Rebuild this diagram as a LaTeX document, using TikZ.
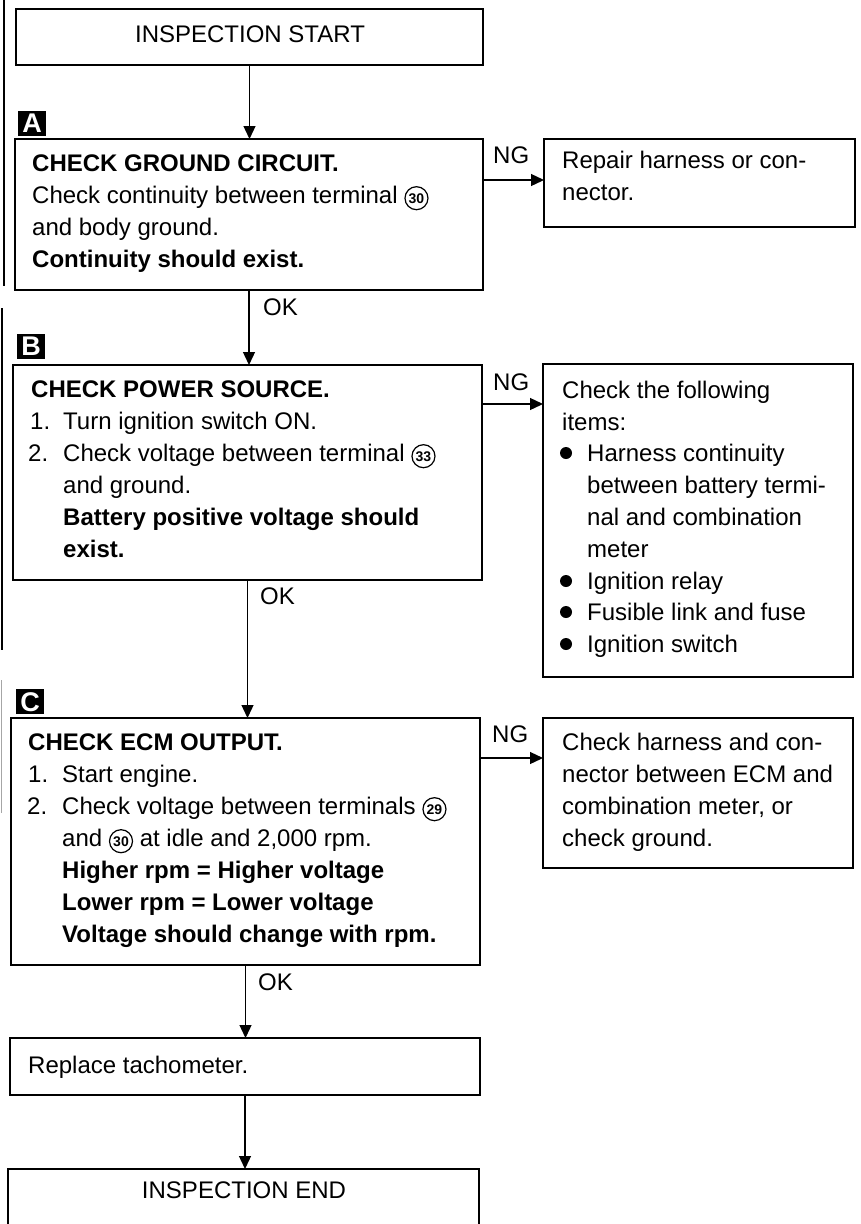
\documentclass[tikz,border=0pt]{standalone}
\usepackage{fontspec}
\setmainfont{Liberation Sans}
\usetikzlibrary{arrows.meta}
\newcommand\cnum[1]{\tikz[baseline=(cn.base)]\node[circle,draw,line width=1.2pt,inner sep=0pt,minimum size=23pt,font=\fontsize{14}{14}\selectfont\bfseries] (cn) {#1};}
\tikzset{
  box/.style={draw, line width=1.6pt, anchor=north west, inner sep=0pt, outer sep=0pt},
  txt/.style={font=\fontsize{24}{32}\selectfont, inner sep=0pt, anchor=base west},
  ctxt/.style={font=\fontsize{24}{32}\selectfont, inner sep=0pt, anchor=base},
  lab/.style={fill=black, text=white, anchor=north west, inner sep=0pt, minimum width=28pt, minimum height=25pt, font=\fontsize{27}{27}\selectfont\bfseries},
  arr/.style={line width=1.3pt, -{Triangle[length=13pt,width=12pt]}},
  margin/.style={line width=1.3pt}
}
\newcommand\tline[4]{\node[txt] (#1) at (#2,#3) {#4};}
\begin{document}
\begin{tikzpicture}[x=1pt,y=-1pt]
\path[use as bounding box] (0,0) rectangle (861,1224);
\clip (0,0) rectangle (861,1224);
\fill[white] (0,0) rectangle (861,1224);
% margin marks
\draw[margin] (4,0) -- (4,286);
\draw[margin] (2,308) -- (2,650);
\draw[line width=0.8pt, black!35] (1,680) -- (1,813);
% boxes
\node[box, minimum width=467pt, minimum height=56pt] (start) at (16,9) {};
\node[box, minimum width=468pt, minimum height=151pt] (A) at (15,139) {};
\node[box, minimum width=311pt, minimum height=88pt] (rep) at (544,139) {};
\node[box, minimum width=469pt, minimum height=215pt] (B) at (13,365) {};
\node[box, minimum width=310pt, minimum height=313pt] (chk) at (543,364) {};
\node[box, minimum width=469pt, minimum height=247pt] (C) at (11,718) {};
\node[box, minimum width=310pt, minimum height=150pt] (har) at (543,718) {};
\node[box, minimum width=470pt, minimum height=57pt] (tach) at (10,1038) {};
\node[box, minimum width=471pt, minimum height=80pt] (end) at (8,1169) {};
% step labels
\node[lab] (la) at (18,111) {A};
\node[lab] (lb) at (17,334) {B};
\node[lab] (lc) at (16,689) {C};
% texts
\node[ctxt] (ts) at (250,42) {INSPECTION START};
\tline{a1}{32}{171}{\bfseries CHECK GROUND CIRCUIT.}
\tline{a2}{32}{203}{Check continuity between terminal \cnum{30}}
\tline{a3}{32}{235}{and body ground.}
\tline{a4}{32}{267}{\bfseries Continuity should exist.}
\tline{r1}{562}{168}{Repair harness or con-}
\tline{r2}{562}{200}{nector.}
\tline{b1}{31}{397}{\bfseries CHECK POWER SOURCE.}
\tline{b2n}{30}{429}{1.}
\tline{b2}{63}{429}{Turn ignition switch ON.}
\tline{b3n}{28}{461}{2.}
\tline{b3}{63}{461}{Check voltage between terminal \cnum{33}}
\tline{b4}{63}{493}{and ground.}
\tline{b5}{63}{525}{\bfseries Battery positive voltage should}
\tline{b6}{63}{557}{\bfseries exist.}
\tline{k1}{562}{398}{Check the following}
\tline{k2}{562}{430}{items:}
\tline{k3}{587}{461}{Harness continuity}
\tline{k4}{587}{493}{between battery termi-}
\tline{k5}{587}{525}{nal and combination}
\tline{k6}{587}{557}{meter}
\tline{k7}{587}{589}{Ignition relay}
\tline{k8}{587}{620}{Fusible link and fuse}
\tline{k9}{587}{652}{Ignition switch}
\foreach \yy in {461,589,620,652} \fill (566,\yy-8) circle (6pt);
\tline{c1}{28}{750}{\bfseries CHECK ECM OUTPUT.}
\tline{c2n}{28}{782}{1.}
\tline{c2}{62}{782}{Start engine.}
\tline{c3n}{27}{814}{2.}
\tline{c3}{62}{814}{Check voltage between terminals \cnum{29}}
\tline{c4}{62}{846}{and \cnum{30} at idle and 2,000 rpm.}
\tline{c5}{62}{878}{\bfseries Higher rpm = Higher voltage}
\tline{c6}{62}{910}{\bfseries Lower rpm = Lower voltage}
\tline{c7}{62}{942}{\bfseries Voltage should change with rpm.}
\tline{h1}{562}{750}{Check harness and con-}
\tline{h2}{562}{782}{nector between ECM and}
\tline{h3}{562}{814}{combination meter, or}
\tline{h4}{562}{846}{check ground.}
\tline{t1}{28}{1073}{Replace tachometer.}
\node[ctxt] (te) at (244,1198) {INSPECTION END};
% NG / OK labels
\tline{nga}{493}{163}{NG}
\tline{ngb}{493}{390}{NG}
\tline{ngc}{492}{742}{NG}
\tline{oka}{263}{315}{OK}
\tline{okb}{260}{604}{OK}
\tline{okc}{258}{990}{OK}
% connectors
\draw[arr] (start.south) -- (start.south |- A.north);
\draw[arr] (A.south) -- (A.south |- B.north);
\draw[arr] (B.south) -- (B.south |- C.north);
\draw[arr] (C.south) -- (C.south |- tach.north);
\draw[arr] (tach.south) -- (tach.south |- end.north);
\draw[arr] (A.east |- 0,180) -- (rep.west |- 0,180);
\draw[arr] (B.east |- 0,404) -- (chk.west |- 0,404);
\draw[arr] (C.east |- 0,758) -- (har.west |- 0,758);
\end{tikzpicture}
\end{document}
